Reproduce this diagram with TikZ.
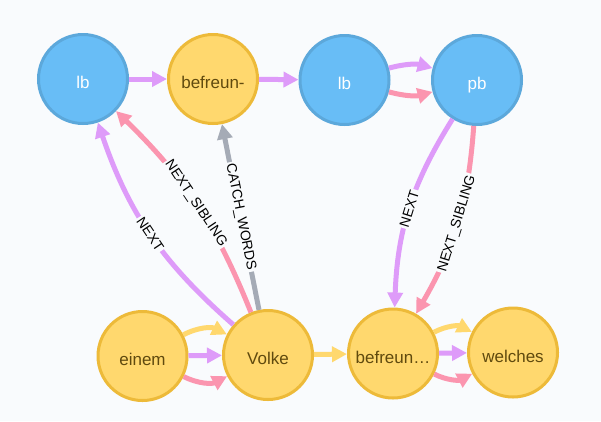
\documentclass[tikz,border=0pt]{standalone}
\usepackage{fontspec}
\setmainfont{Liberation Sans}
\usetikzlibrary{arrows.meta}
\definecolor{bgcol}{HTML}{F9FBFD}
\definecolor{tagfill}{HTML}{68BDF6}
\definecolor{tagedge}{HTML}{5CA8DB}
\definecolor{wordfill}{HTML}{FFD86E}
\definecolor{wordedge}{HTML}{EDBA39}
\definecolor{wordtext}{HTML}{604A0E}
\definecolor{nextcol}{HTML}{DE9BF9}
\definecolor{sibcol}{HTML}{FB95AF}
\definecolor{catchcol}{HTML}{A5ABB6}
\definecolor{othercol}{HTML}{FFD86E}

\begin{document}
\begin{tikzpicture}[x=1pt,y=-1pt,
    word/.style={circle, minimum size=89pt, inner sep=0pt, line width=3pt, draw=wordedge, fill=wordfill, text=wordtext, text height=19pt, text depth=0pt, font=\fontsize{17}{20}\selectfont},
    tag/.style={word, draw=tagedge, fill=tagfill, text=white},
    rel/.style={line width=5pt, -{Triangle[length=15pt,width=15pt]}},
    nextrel/.style={rel, draw=nextcol},
    sibrel/.style={rel, draw=sibcol},
    catchrel/.style={rel, draw=catchcol},
    otherrel/.style={rel, draw=othercol},
    lbl/.style={sloped, fill=bgcol, text=black, inner sep=1.5pt, font=\fontsize{14}{15}\selectfont}]
\path[use as bounding box, fill=bgcol] (0,0) rectangle (601,421);

\node[tag]  (lb1)    at (83,79)    {lb};
\node[word] (bef1)   at (213,79)   {befreun-};
\node[tag]  (lb2)    at (344.5,80) {lb};
\node[tag]  (pb)     at (477,80)   {pb};
\node[word] (einem)  at (142.5,356) {einem};
\node[word] (volke)  at (268,355)  {Volke};
\node[word] (bef2)   at (393,353.5) {befreun…};
\node[word] (welches) at (513,352.5) {welches};

\draw[nextrel] (lb1) -- (bef1);
\draw[nextrel] (bef1) -- (lb2);
\draw[nextrel] (lb2) to[bend left=15] (pb);
\draw[sibrel] (lb2) to[bend right=15] (pb);
\draw[nextrel] (volke) to[bend left=15] node[lbl] {NEXT} (lb1);
\draw[sibrel] (volke) to[bend right=12] node[lbl] {NEXT\_SIBLING} (lb1);
\draw[catchrel] (volke) -- node[lbl] {CATCH\_WORDS} (bef1);
\draw[nextrel] (pb) to[bend right=15] node[lbl] {NEXT} (bef2);
\draw[sibrel] (pb) to[bend left=13] node[lbl] {NEXT\_SIBLING} (bef2);
\draw[otherrel] (einem) to[bend left=27] (volke);
\draw[nextrel] (einem) -- (volke);
\draw[sibrel] (einem) to[bend right=27] (volke);
\draw[otherrel] (volke) -- (bef2);
\draw[otherrel] (bef2) to[bend left=27] (welches);
\draw[nextrel] (bef2) -- (welches);
\draw[sibrel] (bef2) to[bend right=27] (welches);
\end{tikzpicture}
\end{document}
